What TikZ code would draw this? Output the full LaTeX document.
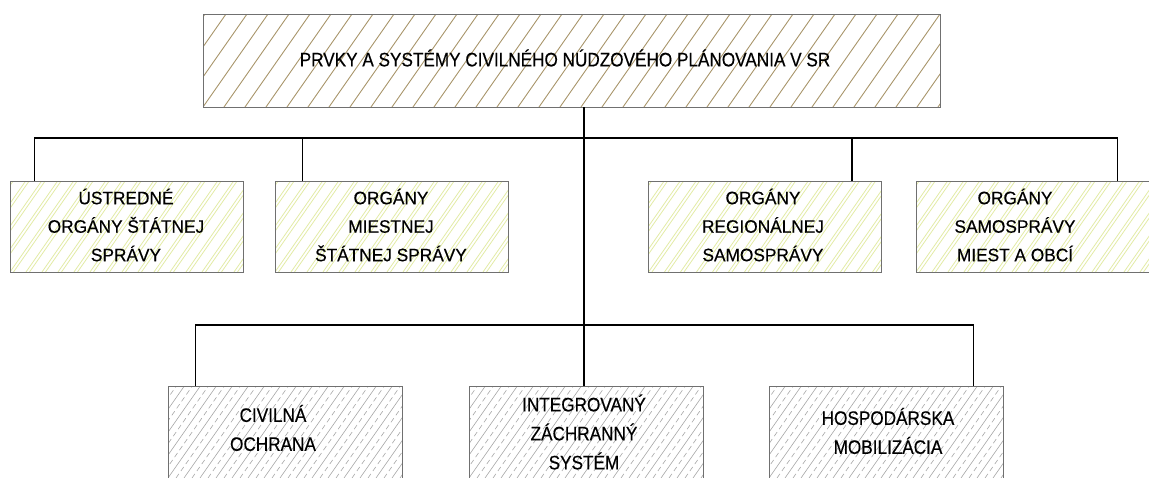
\documentclass[tikz,border=0pt]{standalone}
\usepackage{fontspec}
\newfontfamily\ftop[FakeStretch=0.88,FakeBold=0.4]{Liberation Sans}
\newfontfamily\fmid[FakeStretch=0.96,FakeBold=0.4]{Liberation Sans}
\newfontfamily\fbot[FakeStretch=0.88,FakeBold=0.4]{Liberation Sans}
\usetikzlibrary{calc}
\definecolor{hatchtop}{HTML}{A8956A}
\definecolor{hatchmid}{HTML}{E2EBA6}
\definecolor{hatchbot}{HTML}{A6A6A6}
\definecolor{boxline}{HTML}{707070}
\tikzset{
  boxbase/.style={draw=boxline, line width=0.9pt, inner sep=0pt, rectangle},
  tophatch/.style={path picture={
    \foreach \k in {-6,...,38} {
      \draw[hatchtop, line width=0.9pt] ($(path picture bounding box.south west)+(\k*21pt,0)$) -- ++(100pt,143pt);
    }}},
  midhatch/.style={path picture={
    \foreach \k in {-6,...,18} {
      \draw[hatchmid, line width=0.8pt] ($(path picture bounding box.south west)+(\k*16pt,0)$) -- ++(100pt,143pt);
      \draw[hatchmid, line width=0.8pt] ($(path picture bounding box.south west)+(\k*16pt+3.5pt,0)$) -- ++(100pt,143pt);
    }}},
  bothatch/.style={path picture={
    \foreach \k in {-6,...,17} {
      \draw[hatchbot, line width=0.6pt] ($(path picture bounding box.south west)+(\k*16pt,0)$) -- ++(100pt,143pt);
      \draw[hatchbot, line width=0.6pt, dash pattern=on 5pt off 3.5pt] ($(path picture bounding box.south west)+(\k*16pt+8pt,0)$) -- ++(100pt,143pt);
    }}},
  topbox/.style={boxbase, tophatch, minimum width=737pt, minimum height=93pt},
  midbox/.style={boxbase, midhatch, minimum width=233pt, minimum height=91pt},
  botbox/.style={boxbase, bothatch, minimum width=234pt, minimum height=92pt},
  toptxt/.style={inner sep=0pt, font=\ftop\fontsize{19.5}{23}\selectfont},
  midtxt/.style={inner sep=0pt, align=center, font=\fmid\fontsize{18}{28.5}\selectfont},
  bottxt/.style={inner sep=0pt, align=center, font=\fbot\fontsize{19.5}{29}\selectfont},
  conn/.style={draw=black, line width=1.2pt},
}
\begin{document}
\begin{tikzpicture}[x=1pt, y=-1pt]
\useasboundingbox (0,0) rectangle (1149,477);
\begin{scope}
\clip (0,0) rectangle (1149,477);
% boxes
\node[topbox] (top) at (571.5,60.5) {};
\node[midbox] (b1) at (126.5,226.5) {};
\node[midbox] (b2) at (391.5,226.5) {};
\node[midbox] (b3) at (765,226.5) {};
\node[midbox] (b4) at (1032.5,226.5) {};
\node[botbox] (b5) at (285,432) {};
\node[botbox] (b6) at (586,432) {};
\node[botbox] (b7) at (886,432) {};
% texts
\node[toptxt] (t0) at (565,58) {PRVKY A SYSTÉMY CIVILNÉHO NÚDZOVÉHO PLÁNOVANIA V SR};
\node[midtxt] (t1) at (126,225) {ÚSTREDNÉ\\ORGÁNY ŠTÁTNEJ\\SPRÁVY};
\node[midtxt] (t2) at (391,225) {ORGÁNY\\MIESTNEJ\\ŠTÁTNEJ SPRÁVY};
\node[midtxt] (t3) at (763,225) {ORGÁNY\\REGIONÁLNEJ\\SAMOSPRÁVY};
\node[midtxt] (t4) at (1015,225) {ORGÁNY\\SAMOSPRÁVY\\MIEST A OBCÍ};
\node[bottxt] (t5) at (273,428) {CIVILNÁ\\OCHRANA};
\node[bottxt] (t6) at (584,432) {INTEGROVANÝ\\ZÁCHRANNÝ\\SYSTÉM};
\node[bottxt] (t7) at (888,431) {HOSPODÁRSKA\\MOBILIZÁCIA};
% connectors
\coordinate (j1) at (584,138);
\coordinate (j2) at (584,325);
\draw[conn] (top.south -| j1) -- (b6.north -| j1);
\draw[conn] ([xshift=25pt]b1.north west) |- (j1) -| ([xshift=-32pt]b4.north east);
\draw[conn] ([xshift=28pt]b2.north west) |- (j1);
\draw[conn] ([xshift=-30pt]b3.north east) |- (j1);
\draw[conn] ([xshift=28pt]b5.north west) |- (j2) -| ([xshift=-30pt]b7.north east);
\end{scope}
\end{tikzpicture}
\end{document}
